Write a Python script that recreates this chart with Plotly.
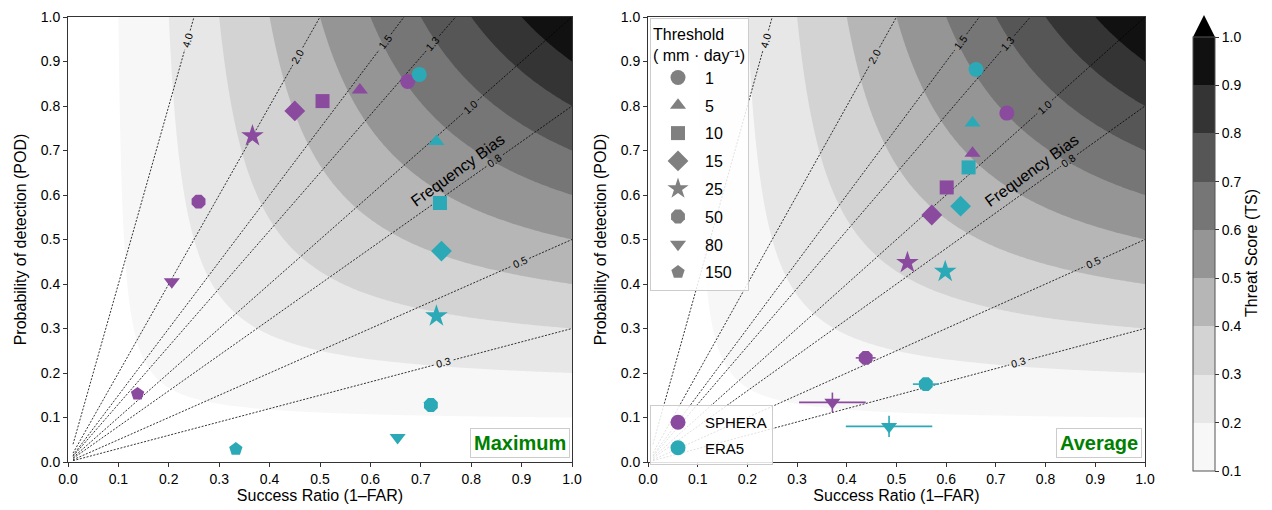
import numpy as np
import plotly.graph_objects as go

# ---------------- data ----------------
thresholds = [1, 5, 10, 15, 25, 50, 80, 150]
threshold_symbols = ["circle", "triangle-up", "square", "diamond", "star", "octagon", "triangle-down", "pentagon"]

# Maximum panel
max_sphera_sr = [0.674, 0.579, 0.505, 0.450, 0.366, 0.259, 0.206, 0.138]
max_sphera_pod = [0.855, 0.836, 0.811, 0.789, 0.733, 0.585, 0.405, 0.153]
max_era5_sr = [0.697, 0.731, 0.738, 0.741, 0.731, 0.720, 0.654, 0.333]
max_era5_pod = [0.871, 0.720, 0.582, 0.474, 0.328, 0.128, 0.055, 0.029]

# Average panel (no 150 threshold)
avg_sphera_sr = [0.722, 0.653, 0.601, 0.571, 0.522, 0.438, 0.371]
avg_sphera_pod = [0.784, 0.694, 0.617, 0.555, 0.448, 0.234, 0.134]
avg_sphera_sr_err = [0, 0, 0, 0, 0, 0.020, 0.067]
avg_sphera_pod_err = [0, 0, 0, 0, 0, 0.008, 0.022]
avg_era5_sr = [0.660, 0.653, 0.645, 0.629, 0.598, 0.559, 0.485]
avg_era5_pod = [0.882, 0.762, 0.662, 0.575, 0.428, 0.175, 0.080]
avg_era5_sr_err = [0, 0, 0, 0, 0, 0.026, 0.087]
avg_era5_pod_err = [0, 0, 0, 0, 0, 0.008, 0.024]

# Frequency-bias lines and label positions (success ratio of label)
bias_values = [0.3, 0.5, 0.8, 1.0, 1.3, 1.5, 2.0, 4.0]
bias_label_sr = [0.746, 0.897, 0.847, 0.798, 0.724, 0.629, 0.456, 0.237]

# Threat-score levels and band colours
ts_levels = [0.1, 0.2, 0.3, 0.4, 0.5, 0.6, 0.7, 0.8, 0.9, 1.0]
ts_band_colors = ["#f7f7f7", "#e7e7e7", "#d3d3d3", "#b6b6b6", "#959595",
                  "#767676", "#565656", "#343434", "#111111"]

# ---------------- styling ----------------
C_SPH = "#8a4a9e"
C_ERA = "#2ba9b6"
FONT = "Liberation Sans, Arial, Helvetica, sans-serif"
W, H = 1272, 510
L1, R1 = 68, 572
L2, R2 = 648, 1145
TOP, BOT = 17, 462
ML, MR, MT, MB = L1, W - R2, TOP, H - BOT
PW, PH = W - ML - MR, H - MT - MB


def px_x(p):
    return (p - ML) / PW


def px_y(p):
    return (H - MB - p) / PH


fig = go.Figure()

# --- TS background fields ---
g = np.linspace(0.01, 1.0, 240)
SR, POD = np.meshgrid(g, g)
TS = 1.0 / (1.0 / SR + 1.0 / POD - 1.0)

cscale = [[0.0, "#ffffff"]]
for k, c in enumerate(ts_band_colors):
    cscale.append([(k + 1) / 10, c])
cscale.append([1.0, "#000000"])

for xa, ya in (("x", "y"), ("x2", "y2")):
    fig.add_trace(go.Contour(
        x=g, y=g, z=TS, xaxis=xa, yaxis=ya,
        autocontour=False,
        contours=dict(start=ts_levels[0], end=ts_levels[-1], size=0.1, coloring="fill", showlines=False),
        colorscale=cscale, showscale=False, line=dict(width=0),
        hoverinfo="skip",
    ))


# --- bias lines ---
def bias_lines(sx, xa, ya):
    xs, ys = [], []
    sy = BOT - TOP
    for b, xl in zip(bias_values, bias_label_sr):
        x_end = min(1.0, 1.0 / b)
        norm = np.hypot(sx, b * sy)
        gap = 10.0 / norm
        xs += [0.01, xl - gap, None, xl + gap, x_end, None]
        ys += [0.01 * b, (xl - gap) * b, None, (xl + gap) * b, x_end * b, None]
        ang = np.degrees(np.arctan(b * sy / sx))
        fig.add_annotation(x=xl, y=xl * b, xref=xa, yref=ya, text=f"{b:.1f}",
                           showarrow=False, textangle=-ang,
                           font=dict(family=FONT, size=10.5, color="black"))
    fig.add_trace(go.Scatter(x=xs, y=ys, xaxis=xa, yaxis=ya, mode="lines",
                             line=dict(color="black", width=0.8, dash="2px,1.5px"),
                             showlegend=False, hoverinfo="skip"))
    fig.add_annotation(x=0.772, y=0.656, xref=xa, yref=ya, text="Frequency Bias",
                       showarrow=False, textangle=-36,
                       font=dict(family=FONT, size=16, color="black"))


bias_lines(R1 - L1, "x", "y")
bias_lines(R2 - L2, "x2", "y2")

# --- data markers ---
sizes = {"circle": 15, "triangle-up": 14, "square": 14, "diamond": 16, "star": 17,
         "octagon": 15, "triangle-down": 14, "pentagon": 14}


def add_points(sr, pod, color, xa, ya, sr_err=None, pod_err=None):
    n = len(sr)
    syms = threshold_symbols[:n]
    kw = {}
    if sr_err is not None:
        kw["error_x"] = dict(type="data", array=sr_err, color=color, thickness=1.6, width=0)
        kw["error_y"] = dict(type="data", array=pod_err, color=color, thickness=1.6, width=0)
    fig.add_trace(go.Scatter(
        x=sr, y=pod, xaxis=xa, yaxis=ya, mode="markers",
        marker=dict(symbol=syms, size=[sizes[s] for s in syms], color=color,
                    opacity=1, line=dict(width=0)),
        showlegend=False, **kw))


add_points(max_sphera_sr, max_sphera_pod, C_SPH, "x", "y")
add_points(max_era5_sr, max_era5_pod, C_ERA, "x", "y")
add_points(avg_sphera_sr, avg_sphera_pod, C_SPH, "x2", "y2", avg_sphera_sr_err, avg_sphera_pod_err)
add_points(avg_era5_sr, avg_era5_pod, C_ERA, "x2", "y2", avg_era5_sr_err, avg_era5_pod_err)

# --- legend entries ---
for t, s in zip(thresholds, threshold_symbols):
    fig.add_trace(go.Scatter(x=[None], y=[None], xaxis="x2", yaxis="y2", mode="markers",
                             marker=dict(symbol=s, size=sizes[s], color="#808080", opacity=1),
                             name=str(t), legend="legend", legendgroup=f"t{t}"))
for name, c in (("SPHERA", C_SPH), ("ERA5", C_ERA)):
    fig.add_trace(go.Scatter(x=[None], y=[None], xaxis="x2", yaxis="y2", mode="markers",
                             marker=dict(symbol="circle", size=15, color=c, opacity=1),
                             name=name, legend="legend2", legendgroup=name))

# --- colorbar via dummy trace ---
cb_scale = []
nb = len(ts_band_colors)
for i, c in enumerate(ts_band_colors):
    cb_scale.append([i / nb, c])
    cb_scale.append([(i + 1) / nb, c])
fig.add_trace(go.Scatter(
    x=[-5, -5], y=[-5, -5], xaxis="x", yaxis="y", mode="markers", showlegend=False,
    hoverinfo="skip",
    marker=dict(color=[ts_levels[0], ts_levels[-1]], colorscale=cb_scale,
                cmin=ts_levels[0], cmax=ts_levels[-1], showscale=True,
                colorbar=dict(
                    x=px_x(1193), xanchor="left", xpad=0, xref="paper",
                    y=px_y((37 + 471) / 2), yanchor="middle", ypad=0, yref="paper",
                    len=471 - 37, lenmode="pixels", thickness=22,
                    outlinewidth=1, outlinecolor="#555555",
                    tickvals=ts_levels, ticktext=[f"{v:.1f}" for v in ts_levels],
                    ticks="outside", ticklen=4, tickcolor="#333333",
                    tickfont=dict(family=FONT, size=14, color="black"),
                ))))

fig.add_annotation(xref="paper", yref="paper", x=px_x(1262), y=px_y((37 + 470) / 2),
                   text="Threat Score (TS)", textangle=-90, showarrow=False,
                   font=dict(family=FONT, size=16, color="black"))

# colorbar "extend max" triangle
fig.add_shape(type="path", xref="paper", yref="paper",
              path=f"M {px_x(1193)} {px_y(37)} L {px_x(1215)} {px_y(37)} L {px_x(1204)} {px_y(15)} Z",
              fillcolor="black", line=dict(width=0))

# --- panel labels ---
for xa, ya, txt, xr in (("x", "y", "Maximum", 0.996), ("x2", "y2", "Average", 0.994)):
    fig.add_annotation(xref=f"{xa} domain", yref=f"{ya} domain", x=xr, y=0.008,
                       xanchor="right", yanchor="bottom", showarrow=False,
                       text=f"<b>{txt}</b>", bgcolor="rgba(255,255,255,0.85)",
                       bordercolor="#cccccc", borderwidth=1, borderpad=3,
                       font=dict(family=FONT, size=20, color="#008000"))

# --- axes ---
tick_vals = [round(0.1 * i, 1) for i in range(11)]
axis_common = dict(range=[0, 1], tickvals=tick_vals, ticktext=[f"{v:.1f}" for v in tick_vals],
                   ticks="outside", ticklen=4, tickcolor="#333333", showgrid=False, zeroline=False,
                   showline=True, linecolor="#333333", linewidth=1, mirror=True, automargin=False,
                   tickfont=dict(family=FONT, size=14, color="black"))
xt = dict(text="Success Ratio (1–FAR)", font=dict(family=FONT, size=16, color="black"), standoff=4)
yt = dict(text="Probability of detection (POD)", font=dict(family=FONT, size=16, color="black"), standoff=10)

fig.update_layout(
    width=W, height=H, margin=dict(l=ML, r=MR, t=MT, b=MB, autoexpand=False),
    paper_bgcolor="white", plot_bgcolor="white",
    font=dict(family=FONT, color="black"),
    xaxis=dict(domain=[0, px_x(R1)], anchor="y", title=xt, **axis_common),
    yaxis=dict(domain=[0, 1], anchor="x", title=yt, **axis_common),
    xaxis2=dict(domain=[px_x(L2), 1], anchor="y2", title=xt, **axis_common),
    yaxis2=dict(domain=[0, 1], anchor="x2", title=yt, **axis_common),
    legend=dict(x=px_x(650), y=px_y(18), xanchor="left", yanchor="top",
                bgcolor="rgba(255,255,255,0.85)", bordercolor="#cccccc", borderwidth=1,
                title=dict(text="Threshold<br>( mm · day⁻¹)", font=dict(family=FONT, size=16)),
                font=dict(family=FONT, size=16, color="black"), itemsizing="trace",
                tracegroupgap=4, itemwidth=44),
    legend2=dict(x=px_x(650), y=px_y(405), xanchor="left", yanchor="top",
                 bgcolor="rgba(255,255,255,0.85)", bordercolor="#cccccc", borderwidth=1,
                 font=dict(family=FONT, size=15, color="black"), itemsizing="trace",
                 tracegroupgap=3, itemwidth=44),
)

fig.write_html("out.html", config={"displayModeBar": False},
               post_script="document.body.style.margin='0px';")
